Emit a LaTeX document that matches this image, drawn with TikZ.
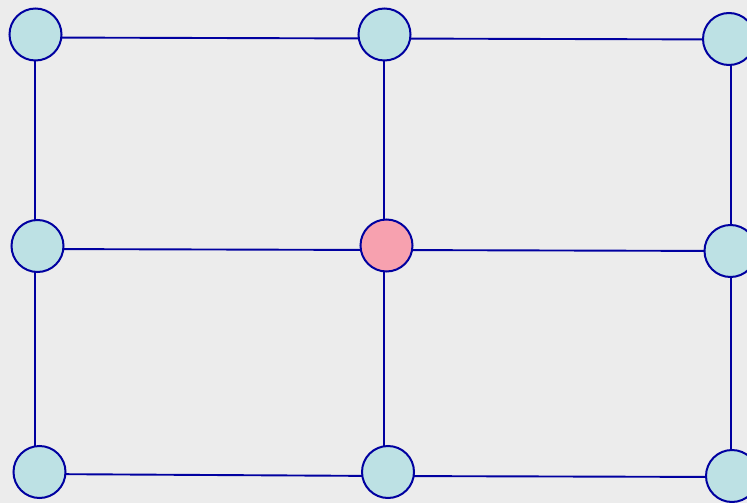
\documentclass[tikz,border=0pt]{standalone}
\usepackage{tikz}

\definecolor{bgGray}{HTML}{ECECEC}
\definecolor{nodeCyan}{HTML}{BDE1E4}
\definecolor{nodePink}{HTML}{F7A1AF}
\definecolor{edgeBlue}{HTML}{0000A0}

\begin{document}
\begin{tikzpicture}[
    x=1pt, y=-1pt,
    vertex/.style={circle, draw=edgeBlue, line width=2pt, fill=nodeCyan, minimum size=52pt, inner sep=0pt},
    center/.style={vertex, fill=nodePink},
    edge/.style={draw=edgeBlue, line width=1.9pt}
]
\fill[bgGray] (0,0) rectangle (747,503);
\useasboundingbox (0,0) rectangle (747,503);

% grid points the edges run between
\coordinate (pa1) at (35,37.5);
\coordinate (pa2) at (384,38.5);
\coordinate (pa3) at (731,39.5);
\coordinate (pb1) at (35,249);
\coordinate (pb2) at (384,250);
\coordinate (pb3) at (731,251);
\coordinate (pc1) at (35,474);
\coordinate (pc2) at (384,476);
\coordinate (pc3) at (731,477);

% edges
\path[edge] (pa1) -- (pa2);
\path[edge] (pa2) -- (pa3);
\path[edge] (pb1) -- (pb2);
\path[edge] (pb2) -- (pb3);
\path[edge] (pc1) -- (pc2);
\path[edge] (pc2) -- (pc3);
\path[edge] (pa1) -- (pb1);
\path[edge] (pb1) -- (pc1);
\path[edge] (pa2) -- (pb2);
\path[edge] (pb2) -- (pc2);
\path[edge] (pa3) -- (pb3);
\path[edge] (pb3) -- (pc3);

% top row
\node[vertex] (a1) at (35.5,34.5) {};
\node[vertex] (a2) at (384.5,34.5) {};
\node[vertex] (a3) at (729,39) {};
% middle row
\node[vertex] (b1) at (37.5,246) {};
\node[center] (b2) at (386.5,245.5) {};
\node[vertex] (b3) at (730.5,251) {};
% bottom row
\node[vertex] (c1) at (39.5,472) {};
\node[vertex] (c2) at (388,472) {};
\node[vertex] (c3) at (732,476) {};
\end{tikzpicture}
\end{document}
